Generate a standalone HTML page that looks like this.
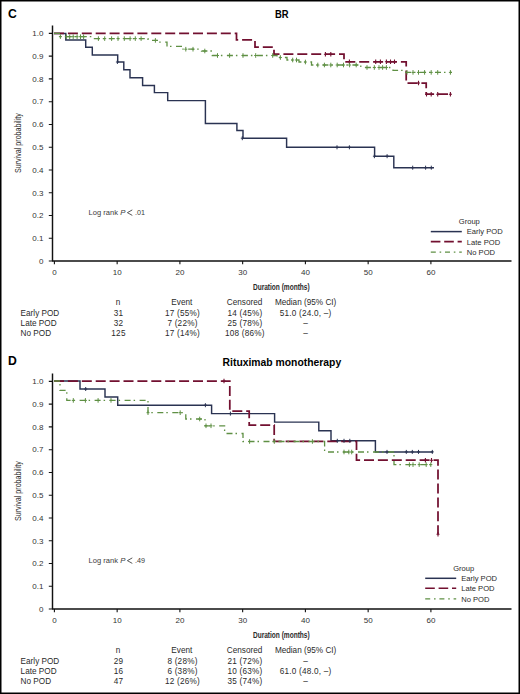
<!DOCTYPE html>
<html><head><meta charset="utf-8"><style>
html,body{margin:0;padding:0;background:#fff;}
body{width:520px;height:694px;overflow:hidden;}
svg{display:block;}
text{font-family:"Liberation Sans",sans-serif;}
.ax{font-size:8px;fill:#333;}
.lr{font-size:7.8px;fill:#3a3a3a;}
.lg{font-size:7.6px;fill:#2a2a2a;}
.tb{font-size:8.2px;fill:#2a2a2a;}
.nm{letter-spacing:0.22px;}
.dur{font-size:9px;fill:#2a2a2a;font-weight:bold;}
.yt{font-size:8.8px;fill:#2a2a2a;}
.pl{font-size:12.2px;font-weight:bold;fill:#000;}
.ti{font-size:10px;font-weight:bold;fill:#000;}
</style></head><body>
<svg width="520" height="694" viewBox="0 0 520 694">
<rect x="0" y="0" width="520" height="694" fill="#fff"/>
<text x="8.1" y="17.7" class="pl">C</text>
<text x="8.1" y="365.2" class="pl">D</text>
<text x="281.8" y="18" text-anchor="middle" class="ti" textLength="13.6" lengthAdjust="spacingAndGlyphs">BR</text>
<text x="281.9" y="365.7" text-anchor="middle" class="ti" textLength="118.6" lengthAdjust="spacingAndGlyphs">Rituximab monotherapy</text>
<path d="M52.5 25.5 V261 M52 261 H511.5" stroke="#111" stroke-width="1.45" fill="none"/>
<path d="M48.8 33.40 H52.5 M48.8 56.16 H52.5 M48.8 78.92 H52.5 M48.8 101.68 H52.5 M48.8 124.44 H52.5 M48.8 147.20 H52.5 M48.8 169.96 H52.5 M48.8 192.72 H52.5 M48.8 215.48 H52.5 M48.8 238.24 H52.5 M48.8 261.00 H52.5 M54.40 261 V264.2 M117.15 261 V264.2 M179.90 261 V264.2 M242.65 261 V264.2 M305.40 261 V264.2 M368.15 261 V264.2 M430.90 261 V264.2" stroke="#111" stroke-width="1.1" fill="none"/>
<text x="43.4" y="36.20" text-anchor="end" class="ax">1.0</text>
<text x="43.4" y="58.96" text-anchor="end" class="ax">0.9</text>
<text x="43.4" y="81.72" text-anchor="end" class="ax">0.8</text>
<text x="43.4" y="104.48" text-anchor="end" class="ax">0.7</text>
<text x="43.4" y="127.24" text-anchor="end" class="ax">0.6</text>
<text x="43.4" y="150.00" text-anchor="end" class="ax">0.5</text>
<text x="43.4" y="172.76" text-anchor="end" class="ax">0.4</text>
<text x="43.4" y="195.52" text-anchor="end" class="ax">0.3</text>
<text x="43.4" y="218.28" text-anchor="end" class="ax">0.2</text>
<text x="43.4" y="241.04" text-anchor="end" class="ax">0.1</text>
<text x="43.4" y="263.80" text-anchor="end" class="ax">0</text>
<text x="54.40" y="275.40" text-anchor="middle" class="ax">0</text>
<text x="117.15" y="275.40" text-anchor="middle" class="ax">10</text>
<text x="179.90" y="275.40" text-anchor="middle" class="ax">20</text>
<text x="242.65" y="275.40" text-anchor="middle" class="ax">30</text>
<text x="305.40" y="275.40" text-anchor="middle" class="ax">40</text>
<text x="368.15" y="275.40" text-anchor="middle" class="ax">50</text>
<text x="430.90" y="275.40" text-anchor="middle" class="ax">60</text>
<path d="M54 33.4 H65.8 V40 H85.7 V47.2 H92.3 V55 H117.7 V62 H123.8 V69.7 H130 V77.7 H142.6 V85.4 H154.4 V92.6 H167.7 V100.6 H205.4 V123.5 H236.9 V130.5 H243 V138.2 H286.6 V147.3 H374.6 V156.2 H393.8 V167.7 H434" stroke="#2a3352" stroke-width="1.45" fill="none"/>
<path d="M54 33.4 H236.5 V39.9 H255 V47 H274 V54.2 H344 V61.8 H406.2 V83 H426.2 V94.2 H452" stroke="#721030" stroke-width="1.75" fill="none" stroke-dasharray="10 3.9"/>
<path d="M54 33.4 H60 V36.6 H92 V38.6 H148 V40.4 H158 V42.2 H167 V46.4 H183 V49.2 H201.5 V51 H212.3 V55.5 H277 V57.5 H287 V60 H299 V62 H311.5 V65 H360.8 V67.5 H393 V70.3 H404.6 V72.4 H452" stroke="#5f9044" stroke-width="1.3" fill="none" stroke-dasharray="6 3 1.5 4.5"/>
<path d="M117.4 60.0 v4.0 M115.9 62 h3 M242.3 136.2 v4.0 M240.8 138.2 h3 M337 145.3 v4.0 M335.5 147.3 h3 M349.4 145.3 v4.0 M347.9 147.3 h3 M374.4 154.2 v4.0 M372.9 156.2 h3 M387.1 154.2 v4.0 M385.6 156.2 h3 M412.7 165.7 v4.0 M411.2 167.7 h3 M425.6 165.7 v4.0 M424.1 167.7 h3 M431.3 165.7 v4.0 M429.8 167.7 h3" stroke="#2a3352" stroke-width="1.0" fill="none"/>
<path d="M325.4 51.900000000000006 v4.6 M323.9 54.2 h3 M330.8 51.900000000000006 v4.6 M329.3 54.2 h3 M349.4 59.5 v4.6 M347.9 61.8 h3 M375.7 59.5 v4.6 M374.2 61.8 h3 M380.4 59.5 v4.6 M378.9 61.8 h3 M386.4 59.5 v4.6 M384.9 61.8 h3 M390.5 59.5 v4.6 M389.0 61.8 h3 M394.5 59.5 v4.6 M393.0 61.8 h3 M418.5 80.7 v4.6 M417.0 83 h3 M426.5 91.9 v4.6 M425.0 94.2 h3 M431.2 91.9 v4.6 M429.7 94.2 h3 M437.7 91.9 v4.6 M436.2 94.2 h3 M450.4 91.9 v4.6 M448.9 94.2 h3" stroke="#721030" stroke-width="1.1" fill="none"/>
<path d="M60.4 34.300000000000004 v4.6 M58.9 36.6 h3 M66.3 34.400000000000006 v4.6 M64.8 36.7 h3 M69.7 34.400000000000006 v4.6 M68.2 36.7 h3 M73.2 34.400000000000006 v4.6 M71.7 36.7 h3 M77.1 34.400000000000006 v4.6 M75.6 36.7 h3 M80.5 34.400000000000006 v4.6 M79.0 36.7 h3 M83.6 34.400000000000006 v4.6 M82.1 36.7 h3 M98.4 36.300000000000004 v4.6 M96.9 38.6 h3 M104.7 36.300000000000004 v4.6 M103.2 38.6 h3 M111.6 36.300000000000004 v4.6 M110.1 38.6 h3 M118 36.300000000000004 v4.6 M116.5 38.6 h3 M124.3 36.300000000000004 v4.6 M122.8 38.6 h3 M130.1 36.300000000000004 v4.6 M128.6 38.6 h3 M135.3 36.300000000000004 v4.6 M133.8 38.6 h3 M141.1 36.300000000000004 v4.6 M139.6 38.6 h3 M155.4 38.1 v4.6 M153.9 40.4 h3 M185.8 46.900000000000006 v4.6 M184.3 49.2 h3 M193 46.900000000000006 v4.6 M191.5 49.2 h3 M204.8 48.7 v4.6 M203.3 51 h3 M217.5 53.2 v4.6 M216.0 55.5 h3 M229.6 53.2 v4.6 M228.1 55.5 h3 M243 53.2 v4.6 M241.5 55.5 h3 M255.7 53.2 v4.6 M254.2 55.5 h3 M272.7 53.2 v4.6 M271.2 55.5 h3 M280.4 55.2 v4.6 M278.9 57.5 h3 M292.7 57.7 v4.6 M291.2 60 h3 M296.5 57.7 v4.6 M295.0 60 h3 M305.4 59.7 v4.6 M303.9 62 h3 M317.8 62.7 v4.6 M316.3 65 h3 M324.4 62.7 v4.6 M322.9 65 h3 M330.8 62.7 v4.6 M329.3 65 h3 M337.2 62.7 v4.6 M335.7 65 h3 M343.5 62.7 v4.6 M342.0 65 h3 M349.6 62.7 v4.6 M348.1 65 h3 M356.2 62.7 v4.6 M354.7 65 h3 M367 65.2 v4.6 M365.5 67.5 h3 M374.3 65.2 v4.6 M372.8 67.5 h3 M379 65.2 v4.6 M377.5 67.5 h3 M382.6 65.2 v4.6 M381.1 67.5 h3 M386.4 65.2 v4.6 M384.9 67.5 h3 M407 70.10000000000001 v4.6 M405.5 72.4 h3 M413 70.10000000000001 v4.6 M411.5 72.4 h3 M418.5 70.10000000000001 v4.6 M417.0 72.4 h3 M424.6 70.10000000000001 v4.6 M423.1 72.4 h3 M431.2 70.10000000000001 v4.6 M429.7 72.4 h3 M437.7 70.10000000000001 v4.6 M436.2 72.4 h3 M450.4 70.10000000000001 v4.6 M448.9 72.4 h3" stroke="#5f9044" stroke-width="1.0" fill="none"/>
<text x="88.6" y="215.40" class="lr" textLength="29.3" lengthAdjust="spacingAndGlyphs">Log rank</text>
<text x="120.3" y="215.40" class="lr" font-style="italic">P</text>
<path d="M132.3 209.90 L127.4 212.65 L132.3 215.40" stroke="#3a3a3a" stroke-width="0.85" fill="none"/>
<text x="134.9" y="215.40" class="lr" textLength="10" lengthAdjust="spacingAndGlyphs">.01</text>
<text x="458.80" y="224.30" class="lg" textLength="21" lengthAdjust="spacingAndGlyphs">Group</text>
<path d="M430.8 231.6 h31" stroke="#2a3352" stroke-width="1.5"/>
<path d="M430.8 241.6 h31" stroke="#721030" stroke-width="1.6" stroke-dasharray="9.6 3.8"/>
<path d="M430.8 252.2 h31" stroke="#5f9044" stroke-width="1.3" stroke-dasharray="5 3.8 1.6 3.8"/>
<text x="466.80" y="234.30" class="lg">Early POD</text>
<text x="466.80" y="244.65" class="lg">Late POD</text>
<text x="466.80" y="255.00" class="lg">No POD</text>
<text x="0" y="0" class="dur" transform="translate(252.9 290.10) scale(0.73 1)">Duration (months)</text>
<text x="0" y="0" class="yt" text-anchor="middle" transform="translate(20.6 143.10) rotate(-90) scale(0.81 1)">Survival probability</text>
<text x="118" y="304.60" text-anchor="middle" class="tb">n</text>
<text x="181.8" y="304.60" text-anchor="middle" class="tb">Event</text>
<text x="244.6" y="304.60" text-anchor="middle" class="tb">Censored</text>
<text x="305.6" y="304.60" text-anchor="middle" class="tb">Median (95% CI)</text>
<text x="20.6" y="315.50" class="tb">Early POD</text>
<text x="118.5" y="315.50" text-anchor="middle" class="tb nm">31</text>
<text x="182.5" y="315.50" text-anchor="middle" class="tb nm">17 (55%)</text>
<text x="244.9" y="315.50" text-anchor="middle" class="tb nm">14 (45%)</text>
<text x="305.6" y="315.50" text-anchor="middle" class="tb nm">51.0 (24.0, &#8211;)</text>
<text x="20.6" y="325.85" class="tb">Late POD</text>
<text x="118.5" y="325.85" text-anchor="middle" class="tb nm">32</text>
<text x="182.5" y="325.85" text-anchor="middle" class="tb nm">7 (22%)</text>
<text x="244.9" y="325.85" text-anchor="middle" class="tb nm">25 (78%)</text>
<text x="305.6" y="325.85" text-anchor="middle" class="tb nm">&#8211;</text>
<text x="20.6" y="336.20" class="tb">No POD</text>
<text x="118.5" y="336.20" text-anchor="middle" class="tb nm">125</text>
<text x="182.5" y="336.20" text-anchor="middle" class="tb nm">17 (14%)</text>
<text x="244.9" y="336.20" text-anchor="middle" class="tb nm">108 (86%)</text>
<text x="305.6" y="336.20" text-anchor="middle" class="tb nm">&#8211;</text>
<path d="M52.5 373.5 V609 M52 609 H511.5" stroke="#111" stroke-width="1.45" fill="none"/>
<path d="M48.8 381.40 H52.5 M48.8 404.16 H52.5 M48.8 426.92 H52.5 M48.8 449.68 H52.5 M48.8 472.44 H52.5 M48.8 495.20 H52.5 M48.8 517.96 H52.5 M48.8 540.72 H52.5 M48.8 563.48 H52.5 M48.8 586.24 H52.5 M48.8 609.00 H52.5 M54.40 609 V612.2 M117.15 609 V612.2 M179.90 609 V612.2 M242.65 609 V612.2 M305.40 609 V612.2 M368.15 609 V612.2 M430.90 609 V612.2" stroke="#111" stroke-width="1.1" fill="none"/>
<text x="43.4" y="384.20" text-anchor="end" class="ax">1.0</text>
<text x="43.4" y="406.96" text-anchor="end" class="ax">0.9</text>
<text x="43.4" y="429.72" text-anchor="end" class="ax">0.8</text>
<text x="43.4" y="452.48" text-anchor="end" class="ax">0.7</text>
<text x="43.4" y="475.24" text-anchor="end" class="ax">0.6</text>
<text x="43.4" y="498.00" text-anchor="end" class="ax">0.5</text>
<text x="43.4" y="520.76" text-anchor="end" class="ax">0.4</text>
<text x="43.4" y="543.52" text-anchor="end" class="ax">0.3</text>
<text x="43.4" y="566.28" text-anchor="end" class="ax">0.2</text>
<text x="43.4" y="589.04" text-anchor="end" class="ax">0.1</text>
<text x="43.4" y="611.80" text-anchor="end" class="ax">0</text>
<text x="54.40" y="623.40" text-anchor="middle" class="ax">0</text>
<text x="117.15" y="623.40" text-anchor="middle" class="ax">10</text>
<text x="179.90" y="623.40" text-anchor="middle" class="ax">20</text>
<text x="242.65" y="623.40" text-anchor="middle" class="ax">30</text>
<text x="305.40" y="623.40" text-anchor="middle" class="ax">40</text>
<text x="368.15" y="623.40" text-anchor="middle" class="ax">50</text>
<text x="430.90" y="623.40" text-anchor="middle" class="ax">60</text>
<path d="M54 381 H80 V389 H105 V397 H117.7 V405.2 H211.6 V413.6 H274.6 V422.1 H318.8 V430.8 H331 V440.8 H375.4 V451.9 H433" stroke="#2a3352" stroke-width="1.45" fill="none"/>
<path d="M54 381 H229.8 V411.2 H249.2 V425 H274.2 V441.3 H356.5 V460.2 H438 V534.3" stroke="#721030" stroke-width="1.75" fill="none" stroke-dasharray="10 3.9"/>
<path d="M54 381 H60 V390.4 H66.8 V400.4 H148 V412.7 H185.8 V419 H205 V425.8 H224.6 V433.5 H243 V441.5 H324.6 V452 H394 V464.6 H432.3" stroke="#5f9044" stroke-width="1.3" fill="none" stroke-dasharray="6 3 1.5 4.5"/>
<path d="M85.7 387.0 v4.0 M84.2 389 h3 M205.4 403.2 v4.0 M203.9 405.2 h3 M230.4 411.6 v4.0 M228.9 413.6 h3 M337.3 438.8 v4.0 M335.8 440.8 h3 M344 438.8 v4.0 M342.5 440.8 h3 M349.8 438.8 v4.0 M348.3 440.8 h3 M387 449.9 v4.0 M385.5 451.9 h3 M406.3 449.9 v4.0 M404.8 451.9 h3 M412.3 449.9 v4.0 M410.8 451.9 h3 M418.5 449.9 v4.0 M417.0 451.9 h3 M432.3 449.9 v4.0 M430.8 451.9 h3" stroke="#2a3352" stroke-width="1.0" fill="none"/>
<path d="M224 378.7 v4.6 M222.5 381 h3 M425.4 457.9 v4.6 M423.9 460.2 h3 M431.5 457.9 v4.6 M430.0 460.2 h3 M438 532.0 v4.6 M436.5 534.3 h3" stroke="#721030" stroke-width="1.1" fill="none"/>
<path d="M73.3 398.09999999999997 v4.6 M71.8 400.4 h3 M85.4 398.09999999999997 v4.6 M83.9 400.4 h3 M98.1 398.09999999999997 v4.6 M96.6 400.4 h3 M111 398.09999999999997 v4.6 M109.5 400.4 h3 M148 410.4 v4.6 M146.5 412.7 h3 M180.2 410.4 v4.6 M178.7 412.7 h3 M199.7 416.7 v4.6 M198.2 419 h3 M206 423.5 v4.6 M204.5 425.8 h3 M211 423.5 v4.6 M209.5 425.8 h3 M249.6 439.2 v4.6 M248.1 441.5 h3 M274.3 439.2 v4.6 M272.8 441.5 h3 M312.4 439.2 v4.6 M310.9 441.5 h3 M344 449.7 v4.6 M342.5 452 h3 M348.8 449.7 v4.6 M347.3 452 h3 M351.7 449.7 v4.6 M350.2 452 h3 M409.4 462.3 v4.6 M407.9 464.6 h3 M413 462.3 v4.6 M411.5 464.6 h3 M419.2 462.3 v4.6 M417.7 464.6 h3 M426.2 462.3 v4.6 M424.7 464.6 h3 M430.8 462.3 v4.6 M429.3 464.6 h3" stroke="#5f9044" stroke-width="1.0" fill="none"/>
<text x="88.6" y="563.40" class="lr" textLength="29.3" lengthAdjust="spacingAndGlyphs">Log rank</text>
<text x="120.3" y="563.40" class="lr" font-style="italic">P</text>
<path d="M132.3 557.90 L127.4 560.65 L132.3 563.40" stroke="#3a3a3a" stroke-width="0.85" fill="none"/>
<text x="134.9" y="563.40" class="lr" textLength="10" lengthAdjust="spacingAndGlyphs">.49</text>
<text x="453.20" y="571.00" class="lg" textLength="21" lengthAdjust="spacingAndGlyphs">Group</text>
<path d="M425.2 578.3000000000001 h31" stroke="#2a3352" stroke-width="1.5"/>
<path d="M425.2 588.3000000000001 h31" stroke="#721030" stroke-width="1.6" stroke-dasharray="9.6 3.8"/>
<path d="M425.2 598.9000000000001 h31" stroke="#5f9044" stroke-width="1.3" stroke-dasharray="5 3.8 1.6 3.8"/>
<text x="461.20" y="581.00" class="lg">Early POD</text>
<text x="461.20" y="591.35" class="lg">Late POD</text>
<text x="461.20" y="601.70" class="lg">No POD</text>
<text x="0" y="0" class="dur" transform="translate(252.9 638.10) scale(0.73 1)">Duration (months)</text>
<text x="0" y="0" class="yt" text-anchor="middle" transform="translate(20.6 491.10) rotate(-90) scale(0.81 1)">Survival probability</text>
<text x="118" y="652.60" text-anchor="middle" class="tb">n</text>
<text x="181.8" y="652.60" text-anchor="middle" class="tb">Event</text>
<text x="244.6" y="652.60" text-anchor="middle" class="tb">Censored</text>
<text x="305.6" y="652.60" text-anchor="middle" class="tb">Median (95% CI)</text>
<text x="20.6" y="663.50" class="tb">Early POD</text>
<text x="118.5" y="663.50" text-anchor="middle" class="tb nm">29</text>
<text x="182.5" y="663.50" text-anchor="middle" class="tb nm">8 (28%)</text>
<text x="244.9" y="663.50" text-anchor="middle" class="tb nm">21 (72%)</text>
<text x="305.6" y="663.50" text-anchor="middle" class="tb nm">&#8211;</text>
<text x="20.6" y="673.85" class="tb">Late POD</text>
<text x="118.5" y="673.85" text-anchor="middle" class="tb nm">16</text>
<text x="182.5" y="673.85" text-anchor="middle" class="tb nm">6 (38%)</text>
<text x="244.9" y="673.85" text-anchor="middle" class="tb nm">10 (63%)</text>
<text x="305.6" y="673.85" text-anchor="middle" class="tb nm">61.0 (48.0, &#8211;)</text>
<text x="20.6" y="684.20" class="tb">No POD</text>
<text x="118.5" y="684.20" text-anchor="middle" class="tb nm">47</text>
<text x="182.5" y="684.20" text-anchor="middle" class="tb nm">12 (26%)</text>
<text x="244.9" y="684.20" text-anchor="middle" class="tb nm">35 (74%)</text>
<text x="305.6" y="684.20" text-anchor="middle" class="tb nm">&#8211;</text>
<rect x="0.75" y="0.75" width="518.5" height="692.5" fill="none" stroke="#000" stroke-width="1.5"/>
</svg>
</body></html>
